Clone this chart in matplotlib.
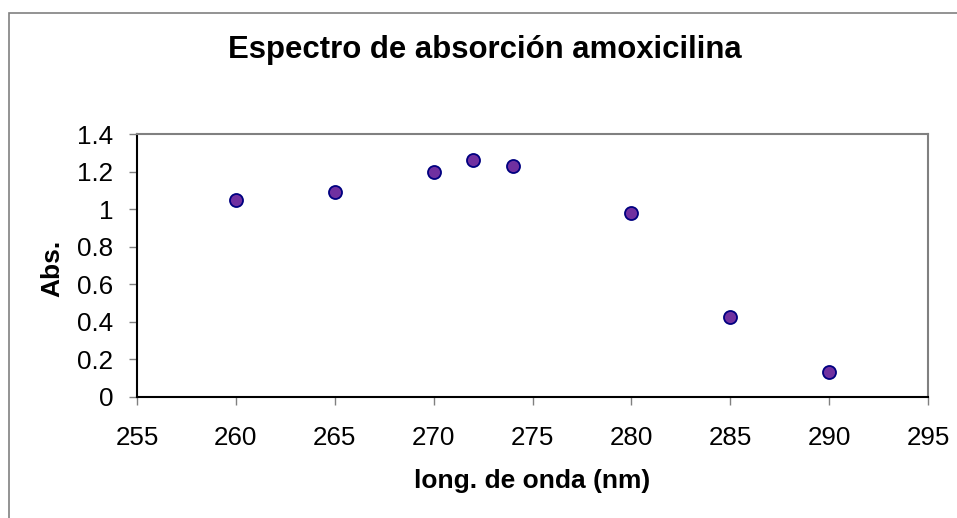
import matplotlib
matplotlib.use('Agg')
import matplotlib.pyplot as plt
from matplotlib.patches import Rectangle

plt.rcParams['font.family'] = ['Liberation Sans', 'DejaVu Sans']

longitud = [260, 265, 270, 272, 274, 280, 285, 290]
absorbancia = [1.048, 1.09, 1.198, 1.264, 1.230, 0.977, 0.428, 0.135]
xticks = [255, 260, 265, 270, 275, 280, 285, 290, 295]
yticks = [0, 0.2, 0.4, 0.6, 0.8, 1, 1.2, 1.4]
ytick_labels = ['0', '0.2', '0.4', '0.6', '0.8', '1', '1.2', '1.4']

W, H = 957, 518
fig = plt.figure(figsize=(W / 100, H / 100), dpi=100)
# marco exterior del grafico (solo se ven arriba e izquierda)
fig.patches.append(Rectangle((9 / W, -0.1), 1.2, 1 - 13 / H + 0.1,
                             transform=fig.transFigure, fill=False,
                             edgecolor='#808080', linewidth=1.2))

ax = fig.add_axes([137 / W, 1 - 397 / H, (928 - 137) / W, (397 - 134) / H])
ax.scatter(longitud, absorbancia, s=88, c='#7030A0', edgecolors='#000080',
           linewidths=1.3, zorder=3, clip_on=False)

ax.set_xlim(255, 295)
ax.set_ylim(0, 1.4)
ax.set_xticks(xticks)
ax.set_xticklabels([str(t) for t in xticks])
ax.set_yticks(yticks)
ax.set_yticklabels(ytick_labels)
ax.tick_params(direction='out', length=6, width=1, labelsize=18.7, color='#808080')
ax.tick_params(axis='x', pad=15)
ax.tick_params(axis='y', pad=11)

ax.spines['left'].set_color('black')
ax.spines['bottom'].set_color('black')
ax.spines['top'].set_color('#808080')
ax.spines['right'].set_color('#808080')
for s in ax.spines.values():
    s.set_linewidth(1.5)

fig.text(532 / W, 1 - 469 / H, 'long. de onda (nm)', ha='center', va='top',
         fontsize=19, fontweight='bold')
fig.text(40 / W, 1 - 268 / H, 'Abs.', ha='left', va='center', rotation=90,
         fontsize=19, fontweight='bold')
fig.text(485 / W, 1 - 58 / H, 'Espectro de absorción amoxicilina', ha='center',
         va='baseline', fontsize=22.4, fontweight='bold')

fig.savefig('out.png', dpi=100)
